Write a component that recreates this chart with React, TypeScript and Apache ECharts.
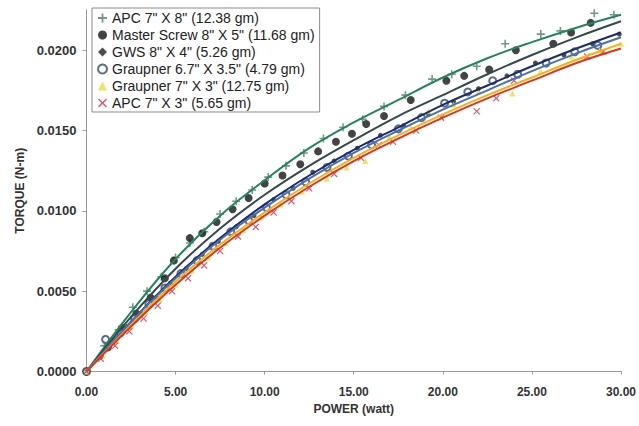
import React, { useEffect, useRef } from "react";
import * as echarts from "echarts";

// ---- data ----
const SERIES_NAMES = [
  'APC 7" X 8" (12.38 gm)',
  'Master Screw 8" X 5" (11.68 gm)',
  'GWS 8" X 4" (5.26 gm)',
  'Graupner 6.7" X 3.5" (4.79 gm)',
  'Graupner 7" X 3" (12.75 gm)',
  'APC 7" X 3" (5.65 gm)',
];

const Y_TICKS = [0, 0.005, 0.01, 0.015, 0.02];

// trend lines, read at power = 0, 2.5, ... 30
const TREND_X = [0, 2.5, 5, 7.5, 10, 12.5, 15, 17.5, 20, 22.5, 25, 27.5, 30];
const TREND_APC78 = [0, 0.0037, 0.007, 0.0097, 0.0119, 0.0139, 0.0155, 0.0169, 0.0183, 0.0195, 0.0205, 0.0214, 0.0222];
const TREND_MASTER = [0, 0.0034, 0.0064, 0.0089, 0.011, 0.0128, 0.0144, 0.0159, 0.0172, 0.0185, 0.0197, 0.0208, 0.0218];
const TREND_GWS = [0, 0.0031, 0.0059, 0.0083, 0.0104, 0.0122, 0.0138, 0.0152, 0.0166, 0.0178, 0.019, 0.0201, 0.0211];
const TREND_GR67 = [0, 0.0031, 0.0058, 0.0082, 0.0102, 0.012, 0.0136, 0.015, 0.0163, 0.0175, 0.0187, 0.0198, 0.0208];
const TREND_GR73 = [0, 0.0029, 0.0056, 0.0079, 0.0099, 0.0117, 0.0133, 0.0147, 0.016, 0.0172, 0.0183, 0.0194, 0.0204];
const TREND_APC73 = [0, 0.0028, 0.0054, 0.0077, 0.0097, 0.0115, 0.0131, 0.0145, 0.0158, 0.017, 0.0181, 0.0192, 0.0201];

// measured points [power, torque]
const PTS_APC78 = [[0, 0], [1, 0.0016], [1.8, 0.0026], [2.6, 0.004], [3.4, 0.005], [4.2, 0.0059], [5, 0.0071], [5.8, 0.008], [6.6, 0.0087], [7.5, 0.0098], [8.4, 0.0106], [9.3, 0.0113], [10.2, 0.0121], [11.2, 0.0128], [12.2, 0.0136], [13.3, 0.0145], [14.4, 0.0152], [15.5, 0.0157], [16.7, 0.0165], [17.9, 0.0172], [19.4, 0.0182], [20.5, 0.0185], [21.9, 0.019], [23.5, 0.0204], [25.5, 0.021], [26.6, 0.0212], [28.5, 0.0223], [29.6, 0.0222]];
const PTS_MASTER = [[0, 0], [1.2, 0.0015], [2, 0.0027], [2.8, 0.0036], [3.6, 0.0046], [4.4, 0.0058], [4.9, 0.0069], [5.8, 0.0083], [6.5, 0.0086], [7.3, 0.0093], [8.2, 0.0101], [9.1, 0.0108], [10, 0.0117], [11, 0.0122], [12, 0.0129], [13, 0.0137], [14, 0.0143], [14.9, 0.0148], [15.7, 0.0154], [16.7, 0.0159], [18.2, 0.0169], [20.2, 0.0181], [21.2, 0.0184], [22.6, 0.0188], [24.1, 0.02], [26.2, 0.0204], [27.2, 0.0211], [28.3, 0.0217]];
const PTS_GWS = [[0, 0], [0.8, 0.0009], [1.5, 0.0018], [2.3, 0.0028], [3.1, 0.0036], [3.9, 0.0046], [4.7, 0.0055], [5.6, 0.0064], [6.5, 0.0073], [7.4, 0.0081], [8.4, 0.009], [9.4, 0.0097], [10.5, 0.0107], [11.6, 0.0114], [12.7, 0.0124], [13.9, 0.0131], [15.2, 0.0139], [16.5, 0.0147], [17.8, 0.0153], [19.2, 0.016], [20.6, 0.0168], [22, 0.0176], [23.6, 0.0184], [25.2, 0.0192], [26.8, 0.0197], [28.4, 0.0204], [29.9, 0.021]];
const PTS_GR67 = [[0, 0], [1.07, 0.002], [1.9, 0.0024], [2.7, 0.0033], [3.5, 0.0042], [4.4, 0.0052], [5.3, 0.0061], [6.2, 0.0069], [7.1, 0.0078], [8.1, 0.0087], [9.1, 0.0094], [10.1, 0.0102], [11.2, 0.011], [12.3, 0.0118], [13.5, 0.0127], [14.7, 0.0134], [16, 0.0141], [17.5, 0.0151], [18.8, 0.0158], [20.1, 0.0167], [21.4, 0.0174], [22.8, 0.0181], [24.2, 0.0185], [25.8, 0.0192], [27.4, 0.0199], [28.7, 0.0203]];
const PTS_GR73 = [[0, 0], [0.9, 0.001], [1.7, 0.0019], [2.5, 0.0028], [3.3, 0.0037], [4.1, 0.0045], [5, 0.0054], [5.9, 0.0063], [6.8, 0.0071], [7.8, 0.008], [8.8, 0.0088], [9.8, 0.0096], [10.9, 0.0104], [12.1, 0.0112], [13.5, 0.012], [14.6, 0.0127], [15.65, 0.0131], [17, 0.0146], [18.2, 0.0152], [19.2, 0.0162], [20.6, 0.0166], [22, 0.0174], [23.9, 0.0173], [25.5, 0.0187], [27.2, 0.0196], [28.8, 0.02], [30, 0.0204]];
const PTS_APC73 = [[0, 0], [0.8, 0.0008], [1.6, 0.0016], [2.4, 0.0025], [3.2, 0.0033], [4, 0.0041], [4.8, 0.005], [5.7, 0.0058], [6.6, 0.0066], [7.5, 0.0075], [8.5, 0.0084], [9.5, 0.009], [10.5, 0.0099], [11.5, 0.0106], [12.5, 0.0114], [13.9, 0.0123], [15.4, 0.0133], [16.4, 0.0141], [17.2, 0.0143], [18.5, 0.015], [19.9, 0.0158], [21.9, 0.0162], [23, 0.017], [24, 0.0181], [28.1, 0.0196], [29, 0.0199]];

const PLUS = "path://M4,0 L6,0 L6,4 L10,4 L10,6 L6,6 L6,10 L4,10 L4,6 L0,6 L0,4 L4,4 Z";
const CROSS = "path://M1.2,0 L5,3.8 L8.8,0 L10,1.2 L6.2,5 L10,8.8 L8.8,10 L5,6.2 L1.2,10 L0,8.8 L3.8,5 L0,1.2 Z";

const FONT = "Liberation Sans, Arial, sans-serif";

export default function App() {
  const ref = useRef<HTMLDivElement>(null);
  useEffect(() => {
    if (!ref.current) return;
    const chart = echarts.init(ref.current, undefined, { renderer: "svg" });
    const pts = [PTS_APC78, PTS_MASTER, PTS_GWS, PTS_GR67, PTS_GR73, PTS_APC73];
    const trends = [TREND_APC78, TREND_MASTER, TREND_GWS, TREND_GR67, TREND_GR73, TREND_APC73];
    const markerStyles: any[] = [
      { symbol: PLUS, symbolSize: 8, itemStyle: { color: "#4f8068" } },
      { symbol: "circle", symbolSize: 8, itemStyle: { color: "#151515" } },
      { symbol: "circle", symbolSize: 5, itemStyle: { color: "#202020" } },
      { symbol: "emptyCircle", symbolSize: 7, itemStyle: { color: "#33476b", borderWidth: 1.5 } },
      { symbol: "triangle", symbolSize: 6, itemStyle: { color: "#e4df3a" } },
      { symbol: CROSS, symbolSize: 7, itemStyle: { color: "#c8354e" } },
    ];
    const legendIcons = [PLUS, "circle", "diamond", "emptyCircle", "triangle", CROSS];
    const lineColors = ["#23865a", "#34494a", "#1c2d6b", "#4a6fb5", "#f2b318", "#e0341e"];

    const scatterSeries = SERIES_NAMES.map((name, i) => ({
      type: "scatter",
      name,
      data: pts[i],
      ...markerStyles[i],
      z: 2,
    }));
    const lineSeries = trends.map((t, i) => ({
      type: "line",
      name: "trend" + i,
      data: TREND_X.map((x, k) => [x, t[k]]),
      smooth: 0.4,
      showSymbol: false,
      symbol: "none",
      lineStyle: { color: lineColors[i], width: 2 },
      itemStyle: { color: lineColors[i] },
      z: 3,
    }));

    chart.setOption({
      animation: false,
      backgroundColor: "#ffffff",
      textStyle: { fontFamily: FONT },
      grid: { left: 86.5, right: 17, top: 10, bottom: 54.5, containLabel: false },
      legend: {
        orient: "vertical",
        left: 92,
        top: 8,
        padding: [3, 5, 2, 5],
        itemGap: 3,
        itemWidth: 9,
        itemHeight: 9,
        itemTextGap: 5,
        borderColor: "#8a8a8a",
        borderWidth: 1,
        backgroundColor: "#ffffff",
        selectedMode: false,
        textStyle: { fontFamily: FONT, fontSize: 14, color: "#222", lineHeight: 14 },
        data: SERIES_NAMES.map((n, i) => ({ name: n, icon: legendIcons[i] })),
        z: 10,
      },
      xAxis: {
        type: "value",
        min: 0,
        max: 30,
        interval: 5,
        name: "POWER (watt)",
        nameLocation: "middle",
        nameGap: 31,
        nameTextStyle: { fontFamily: FONT, fontSize: 12, fontWeight: "bold", color: "#333" },
        axisLine: { show: true, lineStyle: { color: "#999", width: 1 } },
        axisTick: { show: true, length: 3, lineStyle: { color: "#999" } },
        axisLabel: {
          margin: 14,
          fontSize: 12,
          fontWeight: "bold",
          color: "#333",
          fontFamily: FONT,
          formatter: (v: number) => v.toFixed(2),
        },
        splitLine: { show: false },
      },
      yAxis: {
        type: "value",
        min: 0,
        max: 0.0225,
        interval: 0.005,
        name: "TORQUE (N-m)",
        nameLocation: "middle",
        nameRotate: 90,
        nameGap: 58,
        nameTextStyle: { fontFamily: FONT, fontSize: 12, fontWeight: "bold", color: "#333" },
        axisLine: { show: true, lineStyle: { color: "#999", width: 1 } },
        axisTick: { show: true, length: 4, lineStyle: { color: "#999" }, customValues: Y_TICKS },
        axisLabel: {
          margin: 10,
          fontSize: 13,
          fontWeight: "bold",
          color: "#333",
          fontFamily: FONT,
          customValues: Y_TICKS,
          formatter: (v: number) => v.toFixed(4),
        },
        splitLine: { show: false },
      },
      series: [...scatterSeries, ...lineSeries],
    });
    return () => chart.dispose();
  }, []);
  return (
    <div
      ref={ref}
      style={{ position: "fixed", left: 0, top: 0, width: 639, height: 426, background: "#fff" }}
    />
  );
}
